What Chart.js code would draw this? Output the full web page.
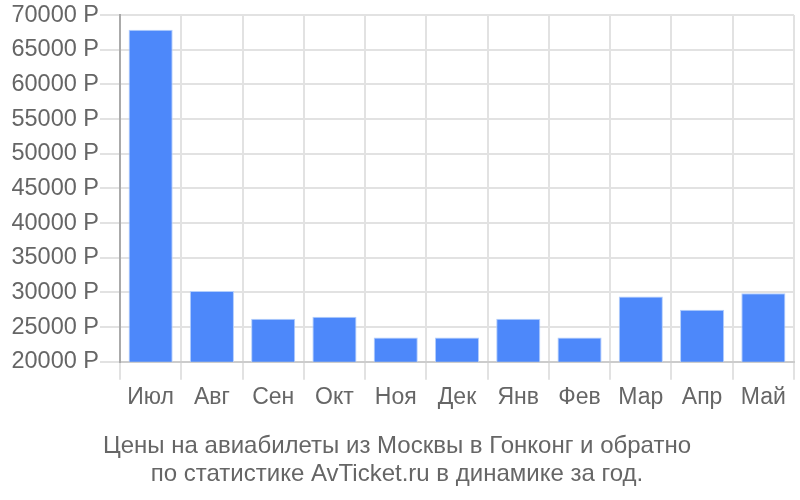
<!DOCTYPE html>
<html>
<head>
<meta charset="utf-8">
<script src="https://cdn.jsdelivr.net/npm/chart.js@4/dist/chart.umd.min.js"></script>
<style>
html,body{margin:0;padding:0;background:#fff;}
#wrap{width:800px;height:500px;}
</style>
</head>
<body>
<div id="wrap"><canvas id="c" width="800" height="500"></canvas></div>
<script>
const categories = ["Июл","Авг","Сен","Окт","Ноя","Дек","Янв","Фев","Мар","Апр","Май"];
const prices = [67900, 30200, 26200, 26500, 23500, 23500, 26200, 23500, 29400, 27500, 29900];
const yMin = 20000, yMax = 70000, yStep = 5000;
const titleLines = ["Цены на авиабилеты из Москвы в Гонконг и обратно", "по статистике AvTicket.ru в динамике за год."];

const FONT = "'Liberation Sans', Arial, sans-serif";
new Chart(document.getElementById('c'), {
  type: 'bar',
  data: {
    labels: categories,
    datasets: [{
      data: prices,
      backgroundColor: '#4d88fa',
      borderColor: '#b3cefc',
      borderWidth: 1,
      barPercentage: 0.72,
      categoryPercentage: 1.0
    }]
  },
  options: {
    responsive: false,
    animation: false,
    layout: { padding: { left: 0, right: 6, top: 14, bottom: 12 } },
    plugins: {
      legend: { display: false },
      tooltip: { enabled: false },
      title: {
        display: true,
        position: 'bottom',
        text: titleLines,
        color: '#666',
        font: { family: FONT, size: 24, weight: 'normal', lineHeight: 1.15 },
        padding: 0
      }
    },
    scales: {
      x: {
        grid: { offset: true, color: '#e2e2e2', lineWidth: 2, tickLength: 18, drawTicks: true },
        border: { color: '#cccccc', width: 2 },
        ticks: { color: '#666', padding: 4, font: { family: FONT, size: 23 }, maxRotation: 0 },
        afterFit: (s) => { s.height = 71; }
      },
      y: {
        min: yMin, max: yMax,
        grid: { color: '#e2e2e2', lineWidth: 2, tickLength: 20 },
        border: { color: '#aaaaaa', width: 2 },
        ticks: {
          stepSize: yStep, color: '#666', padding: 1,
          font: { family: FONT, size: 23.5 },
          callback: (v) => v + ' Р'
        },
        afterFit: (s) => { s.width = 120; }
      }
    }
  }
});
</script>
</body>
</html>
